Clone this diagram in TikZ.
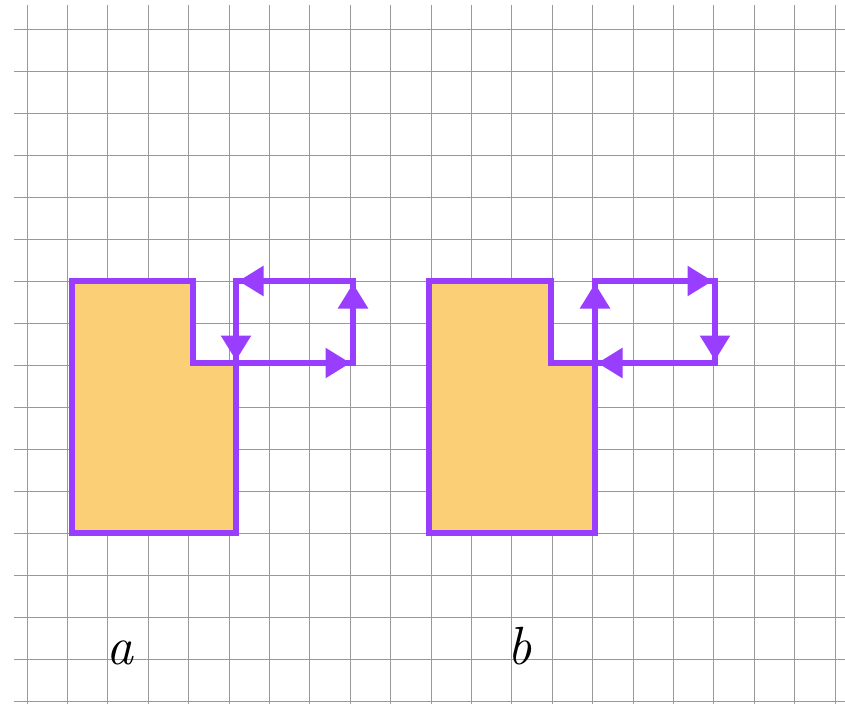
\documentclass[tikz,border=0pt]{standalone}
\usetikzlibrary{arrows.meta}
\definecolor{vio}{RGB}{153,61,255}
\definecolor{sand}{RGB}{250,207,117}
\begin{document}
\begin{tikzpicture}[x=1bp,y=-1bp,
  gridline/.style={draw=black!40, line width=0.9bp},
  figure/.style={draw=vio, fill=sand, line width=5.5bp, line join=miter},
  loopline/.style={draw=vio, line width=5.5bp, line join=miter},
  tipline/.style={draw=vio, line width=5.5bp, -{Triangle[width=29bp,length=25bp]}},
  lbl/.style={anchor=base, inner sep=0pt, font=\fontsize{54}{60}\selectfont\itshape}]
\useasboundingbox (0,0) rectangle (845,704);
\fill[white] (0,0) rectangle (845,704);
% grid
\foreach \i in {0,...,20} \draw[gridline] ({27+40.4*\i},5) -- ({27+40.4*\i},704);
\foreach \j in {0,...,16} \draw[gridline] (14,{29.3+42*\j}) -- (845,{29.3+42*\j});
% figure a
\draw[figure] (72,281) -- (193,281) -- (193,363) -- (236,363) -- (236,533) -- (72,533) -- cycle;
\coordinate (aTL) at (236,281);
\coordinate (aBR) at (353,363);
\draw[loopline] (aTL) rectangle (aBR);
\draw[tipline] (315,363) -- (350.5,363);
\draw[tipline] (353,325) -- (353,283.5);
\draw[tipline] (275,281) -- (238.5,281);
\draw[tipline] (236,320) -- (236,360.5);
% figure b
\draw[figure] (429,281) -- (551,281) -- (551,363) -- (595,363) -- (595,533) -- (429,533) -- cycle;
\coordinate (bTL) at (595,281);
\coordinate (bBR) at (715,363);
\draw[loopline] (bTL) rectangle (bBR);
\draw[tipline] (595,325) -- (595,283.5);
\draw[tipline] (675,281) -- (712.5,281);
\draw[tipline] (715,320) -- (715,360.5);
\draw[tipline] (640,363) -- (597.5,363);
% labels
\node[lbl] (la) at (119.5,664) {a};
\node[lbl] (lb) at (519.5,664) {b};
\end{tikzpicture}
\end{document}
